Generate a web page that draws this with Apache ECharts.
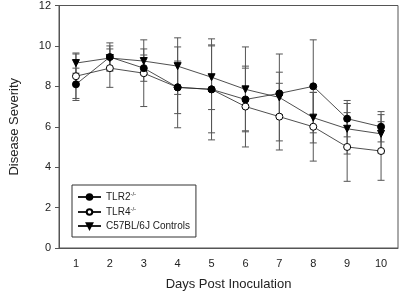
<!DOCTYPE html>
<html>
<head>
<meta charset="utf-8">
<script src="https://cdn.jsdelivr.net/npm/echarts@6/dist/echarts.min.js"></script>
<style>
  html, body { margin: 0; padding: 0; background: #fff; }
  #chart { width: 400px; height: 296px; }
</style>
</head>
<body>
<div id="chart"></div>
<script>
// days post inoculation
var days = ['1', '2', '3', '4', '5', '6', '7', '8', '9', '10'];
var yTicks = [0, 2, 4, 6, 8, 10, 12];

// mean disease severity + error
var tlr2 = [8.1, 9.45, 8.9, 7.95, 7.85, 7.35, 7.65, 8.0, 6.4, 6.0];
var tlr2Err = [0.8, 0.7, 0.65, 1.3, 2.15, 1.55, 1.05, 2.3, 0.9, 0.75];
var tlr4 = [8.5, 8.9, 8.65, 7.95, 7.85, 7.0, 6.5, 6.0, 5.0, 4.8];
var tlr4Err = [1.1, 0.95, 1.65, 2.0, 2.5, 2.0, 1.65, 1.7, 1.7, 1.45];
var c57 = [9.15, 9.4, 9.25, 9.0, 8.45, 7.85, 7.45, 6.45, 5.9, 5.65];
var c57Err = [0.5, 0.6, 0.6, 1.4, 1.6, 2.1, 2.15, 1.25, 1.25, 0.95];

var FONT = '"Liberation Sans", Arial, sans-serif';

function errData(vals, errs) {
    var out = [];
    for (var i = 0; i < vals.length; i++) {
        out.push([i, vals[i] - errs[i], vals[i] + errs[i]]);
    }
    return out;
}

// vertical bar with caps, drawn through the axis scales
function renderErr(params, api) {
    var lo = api.coord([api.value(0), api.value(1)]);
    var hi = api.coord([api.value(0), api.value(2)]);
    var w = 3.5;
    var st = { stroke: '#555', lineWidth: 1 };
    return {
        type: 'group',
        children: [
            { type: 'line', shape: { x1: lo[0], y1: lo[1], x2: hi[0], y2: hi[1] }, style: st },
            { type: 'line', shape: { x1: lo[0] - w, y1: lo[1], x2: lo[0] + w, y2: lo[1] }, style: st },
            { type: 'line', shape: { x1: hi[0] - w, y1: hi[1], x2: hi[0] + w, y2: hi[1] }, style: st }
        ]
    };
}

function errSeries(vals, errs) {
    return {
        type: 'custom',
        renderItem: renderErr,
        data: errData(vals, errs),
        encode: { x: 0, y: [1, 2] },
        z: 1,
        silent: true
    };
}

var myChart = echarts.init(document.getElementById('chart'), null, { renderer: 'canvas' });
var option = {
    animation: false,
    backgroundColor: '#fff',
    grid: {
        left: 59, right: 2, top: 5, bottom: 47,
        show: true, borderColor: '#555', borderWidth: 1
    },
    legend: {
        orient: 'vertical',
        left: 72, top: 185,
        padding: [6, 6, 6, 5],
        itemGap: 4,
        itemWidth: 23, itemHeight: 7,
        borderColor: '#333', borderWidth: 1,
        data: ['TLR2', 'TLR4', 'C57BL/6J Controls'],
        textStyle: {
            fontFamily: FONT, fontSize: 10, color: '#222',
            rich: {
                n: { fontFamily: FONT, fontSize: 10, color: '#222' },
                s: { fontFamily: FONT, fontSize: 6, color: '#222', verticalAlign: 'top', padding: [0, 0, 6, 0] }
            }
        },
        formatter: function (name) {
            if (name === 'C57BL/6J Controls') return '{n|' + name + '}';
            return '{n|' + name + '}{s|-/-}';
        }
    },
    xAxis: {
        type: 'category',
        data: days,
        boundaryGap: true,
        name: 'Days Post Inoculation',
        nameLocation: 'middle',
        nameGap: 30,
        nameTextStyle: { fontFamily: FONT, fontSize: 13, color: '#222' },
        axisLine: { lineStyle: { color: '#555' } },
        axisTick: { alignWithLabel: true, length: 4, lineStyle: { color: '#555' } },
        axisLabel: { fontFamily: FONT, fontSize: 11, color: '#222', margin: 10 },
        splitLine: { show: false }
    },
    yAxis: {
        type: 'value',
        min: yTicks[0],
        max: yTicks[yTicks.length - 1],
        interval: 2,
        name: 'Disease Severity',
        nameLocation: 'middle',
        nameGap: 38,
        nameTextStyle: { fontFamily: FONT, fontSize: 13, color: '#222' },
        axisLine: { show: true, lineStyle: { color: '#555' } },
        axisTick: { show: true, length: 4, lineStyle: { color: '#555' } },
        axisLabel: { fontFamily: FONT, fontSize: 11, color: '#222', margin: 8 },
        splitLine: { show: false }
    },
    series: [
        errSeries(tlr2, tlr2Err),
        errSeries(tlr4, tlr4Err),
        errSeries(c57, c57Err),
        {
            name: 'TLR2', type: 'line', data: tlr2, z: 5,
            symbol: 'circle', symbolSize: 7,
            itemStyle: { color: '#000', borderColor: '#000', borderWidth: 1 },
            lineStyle: { color: '#222', width: 0.8 }
        },
        {
            name: 'TLR4', type: 'line', data: tlr4, z: 4,
            symbol: 'circle', symbolSize: 7,
            itemStyle: { color: '#fff', borderColor: '#000', borderWidth: 1 },
            lineStyle: { color: '#222', width: 0.8 }
        },
        {
            name: 'C57BL/6J Controls', type: 'line', data: c57, z: 3,
            symbol: 'triangle', symbolSize: 7, symbolRotate: 180,
            itemStyle: { color: '#000', borderColor: '#000', borderWidth: 1 },
            lineStyle: { color: '#222', width: 0.8 }
        }
    ]
};
myChart.setOption(option);
</script>
</body>
</html>
